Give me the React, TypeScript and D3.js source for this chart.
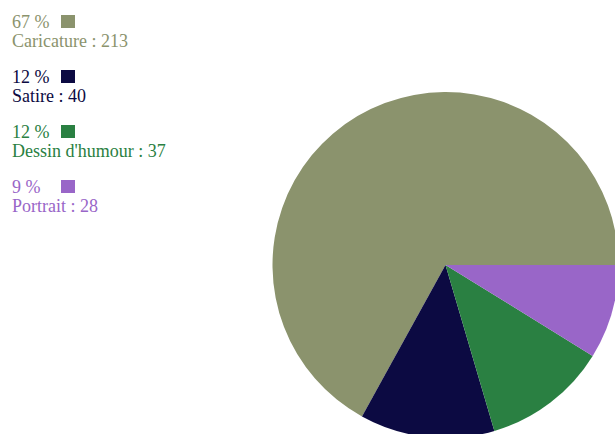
import React from "react";
import * as d3 from "d3";

const categories = ["Caricature", "Satire", "Dessin d'humour", "Portrait"];
const values = [213, 40, 37, 28];
const percentLabels = ["67 %", "12 %", "12 %", "9 %"];
const colors = ["#8b936d", "#0c0a42", "#2a8042", "#9966c8"];

const W = 615;
const H = 434;
const CX = 445.5;
const CY = 265;
const R = 173;

export default function App() {
  const pie = d3
    .pie<number>()
    .sort(null)
    .value((d) => d)
    .startAngle(Math.PI / 2)
    .endAngle(Math.PI / 2 - 2 * Math.PI);
  const arcs = pie(values);
  const arcGen = d3.arc<d3.PieArcDatum<number>>().innerRadius(0).outerRadius(R);

  return (
    <svg
      width={W}
      height={H}
      style={{ position: "absolute", left: 0, top: 0, background: "#fff" }}
      fontFamily="'Liberation Serif', 'Times New Roman', serif"
    >
      <g transform={`translate(${CX},${CY})`}>
        {arcs.map((a, i) => (
          <path key={i} d={arcGen(a) || ""} fill={colors[i]} />
        ))}
      </g>
      {categories.map((c, i) => {
        const y0 = 28 + i * 55;
        return (
          <g key={c} fill={colors[i]} fontSize={18}>
            <text x={12} y={y0}>{percentLabels[i]}</text>
            <rect x={61} y={y0 - 13} width={14} height={13} fill={colors[i]} />
            <text x={12} y={y0 + 19}>{`${c} : ${values[i]}`}</text>
          </g>
        );
      })}
    </svg>
  );
}
